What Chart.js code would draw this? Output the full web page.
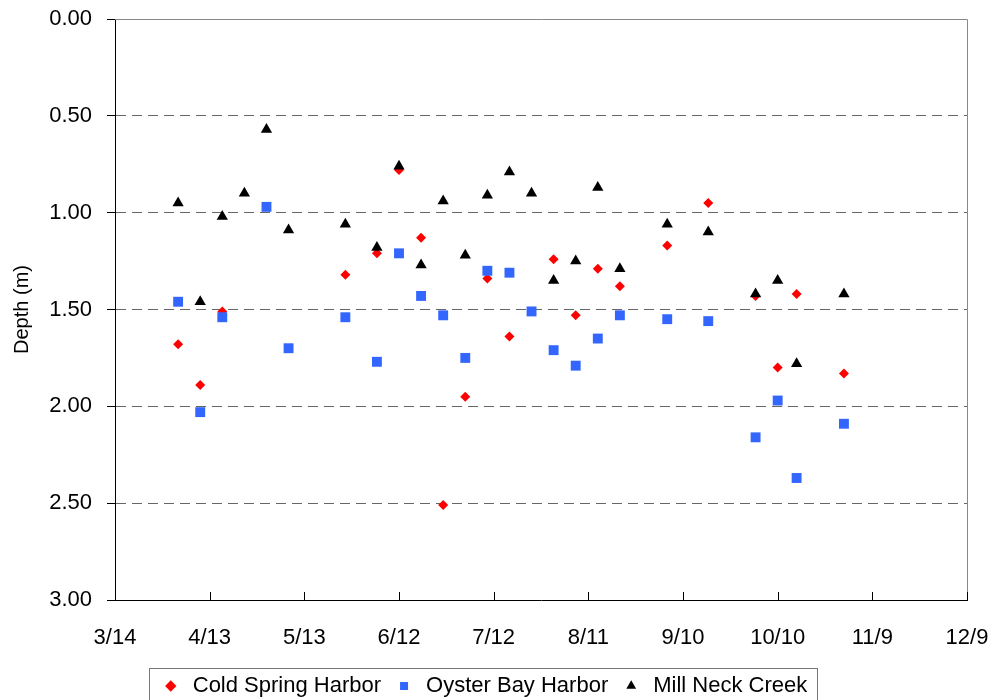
<!DOCTYPE html>
<html lang="en">
<head>
    <meta charset="UTF-8">
    <title>Depth (m)</title>
    <style>
        body {
            margin: 0;
            background-color: #fff;
        }

        .chart-box {
            width: 994px;
            height: 700px;
        }
    </style>
</head>
<body>
    <div class="chart-box">
        <canvas id="depthChart"></canvas>
    </div>

    <script src="https://cdn.jsdelivr.net/npm/chart.js"></script>
    <script>
        // days counted from 3/14
        const sampleDays = [20, 27, 34, 41, 48, 55, 73, 83, 90, 97, 104, 111, 118, 125, 132, 139, 146, 153, 160, 175, 188, 203, 210, 216, 231];

        const coldSpring = [1.68, 1.89, 1.51, null, null, null, 1.32, 1.21, 0.78, 1.13, 2.51, 1.95, 1.34, 1.64, null, 1.24, 1.53, 1.29, 1.38, 1.17, 0.95, 1.43, 1.80, 1.42, 1.83];
        const oysterBay = [1.46, 2.03, 1.54, null, 0.97, 1.70, 1.54, 1.77, 1.21, 1.43, 1.53, 1.75, 1.30, 1.31, 1.51, 1.71, 1.79, 1.65, 1.53, 1.55, 1.56, 2.16, 1.97, 2.37, 2.09];
        const millNeck = [0.95, 1.46, 1.02, 0.90, 0.57, 1.09, 1.06, 1.18, 0.76, 1.27, 0.94, 1.22, 0.91, 0.79, 0.90, 1.35, 1.25, 0.87, 1.29, 1.06, 1.10, 1.42, 1.35, 1.78, 1.42];

        const xTickLabels = ['3/14', '4/13', '5/13', '6/12', '7/12', '8/11', '9/10', '10/10', '11/9', '12/9'];

        const fontFamily = '"Liberation Sans", Arial, sans-serif';

        function toPoints(values) {
            const pts = [];
            values.forEach((v, i) => {
                if (v !== null) pts.push({ x: sampleDays[i], y: v });
            });
            return pts;
        }

        // plot frame (grey top/right), inner x ticks and the legend box
        const framePlugin = {
            id: 'frame',
            beforeDatasetsDraw(chart) {
                const ctx = chart.ctx;
                const a = chart.chartArea;
                ctx.save();
                ctx.lineWidth = 1;
                ctx.strokeStyle = '#888';
                ctx.beginPath();
                ctx.moveTo(a.left, a.top + 0.5);
                ctx.lineTo(a.right + 0.5, a.top + 0.5);
                ctx.lineTo(a.right + 0.5, a.bottom);
                ctx.stroke();

                const xs = chart.scales.x;
                ctx.strokeStyle = '#000';
                ctx.beginPath();
                xs.ticks.forEach(t => {
                    const px = Math.round(xs.getPixelForValue(t.value)) + 0.5;
                    ctx.moveTo(px, a.bottom);
                    ctx.lineTo(px, a.bottom - 8);
                });
                ctx.stroke();
                ctx.restore();
            },
            afterDraw(chart) {
                const boxes = chart.legend.legendHitBoxes;
                if (!boxes || !boxes.length) return;
                const first = boxes[0];
                const last = boxes[boxes.length - 1];
                const ctx = chart.ctx;
                ctx.save();
                ctx.strokeStyle = '#777';
                ctx.lineWidth = 1;
                ctx.strokeRect(Math.round(first.left - 11) + 0.5, Math.round(first.top - 7) + 0.5,
                    Math.round(last.left + last.width + 10 - (first.left - 11)), 50);
                ctx.restore();
            }
        };

        const ctx = document.getElementById('depthChart').getContext('2d');

        new Chart(ctx, {
            type: 'scatter',
            data: {
                datasets: [{
                    label: 'Cold Spring Harbor',
                    data: toPoints(coldSpring),
                    pointStyle: 'rectRot',
                    pointRadius: 5,
                    pointBackgroundColor: '#ff0000',
                    pointBorderWidth: 0,
                    order: 3
                }, {
                    label: 'Oyster Bay Harbor',
                    data: toPoints(oysterBay),
                    pointStyle: 'rect',
                    pointRadius: 7,
                    pointBackgroundColor: '#3366ff',
                    pointBorderWidth: 0,
                    order: 2
                }, {
                    label: 'Mill Neck Creek',
                    data: toPoints(millNeck),
                    pointStyle: 'triangle',
                    pointRadius: 6.5,
                    pointBackgroundColor: '#000000',
                    pointBorderWidth: 0,
                    order: 1
                }]
            },
            options: {
                responsive: true,
                maintainAspectRatio: false,
                animation: false,
                layout: {
                    padding: { top: 19, left: 0, right: 27, bottom: -7 }
                },
                plugins: {
                    tooltip: { enabled: false },
                    legend: {
                        position: 'bottom',
                        labels: {
                            usePointStyle: true,
                            boxHeight: 8,
                            padding: 12,
                            color: '#000',
                            font: { family: fontFamily, size: 22 },
                            sort: (a, b) => a.datasetIndex - b.datasetIndex
                        }
                    }
                },
                scales: {
                    x: {
                        type: 'linear',
                        min: 0,
                        max: 270,
                        afterFit(scale) {
                            scale.height = 63;
                            scale.paddingLeft = 0;
                            scale.paddingRight = 0;
                        },
                        ticks: {
                            stepSize: 30,
                            padding: 25,
                            color: '#000',
                            font: { family: fontFamily, size: 22 },
                            callback: (v) => xTickLabels[Math.round(v / 30)]
                        },
                        grid: { display: false, drawTicks: false },
                        border: { display: true, color: '#000', width: 1 }
                    },
                    y: {
                        reverse: true,
                        min: 0,
                        max: 3,
                        afterFit(scale) {
                            scale.width = 115;
                            scale.paddingTop = 0;
                            scale.paddingBottom = 0;
                        },
                        ticks: {
                            stepSize: 0.5,
                            padding: 15,
                            color: '#000',
                            font: { family: fontFamily, size: 22 },
                            callback: (v) => v.toFixed(2)
                        },
                        grid: {
                            color: (c) => (c.tick && (c.tick.value === 0 || c.tick.value === 3)) ? 'rgba(0,0,0,0)' : '#666',
                            tickColor: '#000',
                            tickLength: 8,
                            lineWidth: 1
                        },
                        border: { display: true, color: '#000', width: 1, dash: [10, 6] },
                        title: {
                            display: true,
                            text: 'Depth (m)',
                            color: '#000',
                            font: { family: fontFamily, size: 20 },
                            padding: { top: 10, bottom: 0 }
                        }
                    }
                }
            },
            plugins: [framePlugin]
        });
    </script>
</body>
</html>
